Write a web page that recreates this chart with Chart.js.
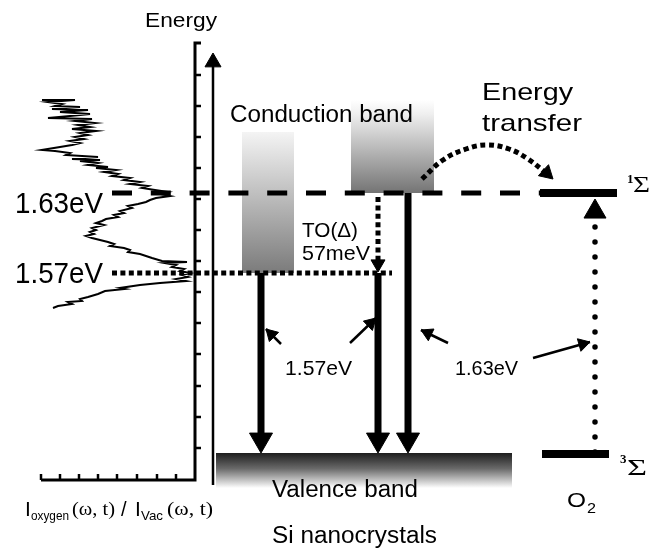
<!DOCTYPE html>
<html>
<head>
<meta charset="utf-8">
<script src="https://cdn.jsdelivr.net/npm/chart.js@4.4.0/dist/chart.umd.min.js"></script>
<style>
  html, body { margin: 0; padding: 0; background: #fff; }
  canvas { display: block; }
</style>
</head>
<body>
<canvas id="diagram" width="662" height="548"></canvas>
<script>
// Diagram units: x runs 0..662 left to right, y runs 0..548 top to bottom.

// PL ratio trace (intensity to the right, energy going up)
const spectrumY = [100,100,102,104,106,107,109,110,112,114,
  116,118,119,121,123,125,127,129,131,133,
  135,137,139,141,143,145,147,150,151,153,
  155,157,159,160,161,163,165,167,168,170,
  172,174,176,178,180,182,184,186,188,190,
  192,194,196,198,200,202,204,206,208,211,
  213,215,217,219,221,223,225,228,230,232,
  234,236,238,240,242,244,246,248,250,252,
  254,256,258,261,262,263,265,267,269,271,
  273,275,277,279,281,283,285,288,289,291,
  294,297,299,301,302,304,306,308];
const spectrumX = [42,75,48,62,55,80,52,88,60,90,
  70,48,92,75,95,78,90,72,96,80,
  88,75,84,70,80,72,60,42,55,70,
  66,98,72,100,80,98,88,108,96,116,
  104,118,112,130,124,140,130,148,142,155,
  168,160,170,156,150,146,138,128,132,120,
  124,114,118,106,102,96,104,92,96,90,
  94,86,92,100,108,114,110,124,130,128,
  140,146,152,162,187,165,176,172,184,180,
  190,182,188,176,186,160,140,120,125,105,
  98,88,80,82,68,72,58,53];

// energy levels
const level163 = 193;
const level157 = 273;
const valenceTop = 453;
const tripletLevel = 454;

// left plot frame ticks
const frameTicksY = [75,106,137,168,199,230,261,292,323,354,386,417,448];
const frameTicksX = [41,60,79,98,117,137,157,176];

// gradient bands: [x0, y0, x1, y1]
const condLeft = [242, 132, 294, level157];
const condRight = [351, 100, 434, level163];
const valence = [216, valenceTop, 512, 488];

// transitions: [xFrom, yFrom, xTo, yTo]
const recombArrows = [
  [261, level157, 261, valenceTop],
  [378, level157, 378, valenceTop],
  [408, level163, 408, valenceTop]
];
const phononArrow = [378, level163 + 4, 378, level157 - 1];
const oxygenArrow = [595, tripletLevel - 2, 595, level163 + 6];
const transferCurveX = [422, 443, 466, 487, 509, 528, 546];
const transferCurveY = [179, 160, 149, 145, 149, 159, 173];
const transferTip = [553, 179];
const pointers = [
  [281, 344, 266, 329],
  [350, 343, 376, 318],
  [448, 343, 421, 330],
  [533, 358, 590, 342]
];

const labels = [
  { text: 'Energy', x: 145, y: 27, size: 20, w: 72 },
  { text: '1.63eV', x: 15, y: 213, size: 29, w: 88 },
  { text: '1.57eV', x: 15, y: 283, size: 29, w: 88 },
  { text: 'Conduction band', x: 230, y: 122, size: 23, w: 183 },
  { text: 'TO(\u0394)', x: 302, y: 237, size: 21, w: 56 },
  { text: '57meV', x: 302, y: 260, size: 21, w: 68 },
  { text: 'Energy', x: 482, y: 100, size: 24, w: 91 },
  { text: 'transfer', x: 482, y: 131, size: 24, w: 100 },
  { text: '1.57eV', x: 285, y: 375, size: 21, w: 67 },
  { text: '1.63eV', x: 455, y: 375, size: 21, w: 63 },
  { text: 'Valence band', x: 272, y: 497, size: 23, w: 146 },
  { text: 'Si nanocrystals', x: 272, y: 543, size: 23, w: 165 },
  { text: 'O', x: 567, y: 507, size: 21, w: 19 },
  { text: '2', x: 587, y: 513, size: 14, w: 9 },
  { text: '1', x: 627, y: 183, size: 13, serif: true, bold: true },
  { text: '\u03A3', x: 633, y: 192, size: 23, serif: true, w: 17 },
  { text: '3', x: 620, y: 463, size: 13, serif: true, bold: true },
  { text: '\u03A3', x: 627, y: 475, size: 23, serif: true, w: 20 },
  { text: 'I', x: 25, y: 516, size: 21 },
  { text: 'oxygen', x: 31, y: 520, size: 13, w: 38 },
  { text: '(\u03C9, t)', x: 72, y: 515, size: 18, serif: true, w: 43 },
  { text: '/', x: 121, y: 516, size: 20 },
  { text: 'I', x: 135, y: 516, size: 21 },
  { text: 'Vac', x: 141, y: 520, size: 13, w: 22 },
  { text: '(\u03C9, t)', x: 167, y: 515, size: 18, serif: true, w: 46 }
];

function pts(xs, ys) {
  return xs.map((x, i) => ({ x: x, y: ys[i] }));
}

function line(data, width, dash, extra) {
  return Object.assign({
    data: data,
    showLine: true,
    borderColor: '#000',
    borderWidth: width,
    borderDash: dash || [],
    pointRadius: 0,
    clip: false
  }, extra || {});
}

// arrow heads are triangle points sitting just behind each tip
const heads = [];
function addHead(x0, y0, x1, y1, side) {
  const len = Math.hypot(x1 - x0, y1 - y0);
  const ux = (x1 - x0) / len, uy = (y1 - y0) / len;
  const r = side / Math.sqrt(3);
  heads.push({
    x: x1 - ux * r, y: y1 - uy * r,
    r: r,
    rot: Math.atan2(ux, -uy) * 180 / Math.PI
  });
}

const datasets = [];

// left spectrum and its frame
datasets.push(line(pts(spectrumX, spectrumY), 2));
datasets.push(line([{ x: 201, y: 43 }, { x: 195, y: 43 }, { x: 195, y: 480 }, { x: 41, y: 480 }], 3));
datasets.push({
  data: frameTicksY.map(y => ({ x: 198, y: y })),
  pointStyle: 'line', pointRadius: 3, pointBorderWidth: 2.5, pointBorderColor: '#000', pointRotation: 0
});
datasets.push({
  data: frameTicksX.map(x => ({ x: x, y: 477 })),
  pointStyle: 'line', pointRadius: 3, pointBorderWidth: 2.5, pointBorderColor: '#000', pointRotation: 90
});

// energy axis arrow
datasets.push(line([{ x: 213, y: 485 }, { x: 213, y: 64 }], 2.5));
addHead(213, 485, 213, 53, 16);

// level lines
datasets.push(line([{ x: 112, y: level163 }, { x: 540, y: level163 }], 5, [20, 18.8]));
datasets.push(line([{ x: 112, y: level157 }, { x: 392, y: level157 }], 5, [5, 3.4]));
datasets.push(line([{ x: 540, y: level163 }, { x: 617, y: level163 }], 8));
datasets.push(line([{ x: 542, y: tripletLevel }, { x: 609, y: tripletLevel }], 8));

// recombination arrows
recombArrows.forEach(a => {
  datasets.push(line([{ x: a[0], y: a[1] }, { x: a[2], y: a[3] - 12 }], 7));
  addHead(a[0], a[1], a[2], a[3], 23);
});

// phonon step (dotted)
datasets.push(line([{ x: phononArrow[0], y: phononArrow[1] }, { x: phononArrow[2], y: phononArrow[3] - 8 }], 5, [5, 3.4]));
addHead(phononArrow[0], phononArrow[1], phononArrow[2], phononArrow[3], 14);

// oxygen excitation (round dots)
datasets.push(line([{ x: oxygenArrow[0], y: oxygenArrow[1] }, { x: oxygenArrow[2], y: oxygenArrow[3] + 14 }], 5.5, [0, 15], { borderCapStyle: 'round' }));
addHead(oxygenArrow[0], oxygenArrow[1], oxygenArrow[2], oxygenArrow[3], 22);

// energy transfer curve
datasets.push(line(pts(transferCurveX, transferCurveY), 5, [5, 3.6], { tension: 0.4 }));
addHead(transferCurveX[transferCurveX.length - 1] - 6, transferCurveY[transferCurveY.length - 1] - 6, transferTip[0], transferTip[1], 15);

// label pointers
pointers.forEach(p => {
  datasets.push(line([{ x: p[0], y: p[1] }, { x: p[2], y: p[3] }], 2.5));
  addHead(p[0], p[1], p[2], p[3], 13);
});

datasets.push({
  data: heads.map(h => ({ x: h.x, y: h.y })),
  pointStyle: 'triangle',
  pointRadius: heads.map(h => h.r),
  pointRotation: heads.map(h => h.rot),
  pointBackgroundColor: '#000',
  pointBorderColor: '#000',
  pointBorderWidth: 1,
  clip: false
});

const bandPlugin = {
  id: 'bands',
  beforeDatasetsDraw(chart) {
    const ctx = chart.ctx;
    const sx = chart.scales.x, sy = chart.scales.y;
    const fillBand = (b, stops) => {
      const x0 = sx.getPixelForValue(b[0]), y0 = sy.getPixelForValue(b[1]);
      const x1 = sx.getPixelForValue(b[2]), y1 = sy.getPixelForValue(b[3]);
      const g = ctx.createLinearGradient(0, y0, 0, y1);
      stops.forEach(s => g.addColorStop(s[0], s[1]));
      ctx.fillStyle = g;
      ctx.fillRect(x0, y0, x1 - x0, y1 - y0);
    };
    ctx.save();
    fillBand(condLeft, [[0, '#f4f4f4'], [1, '#7b7b7b']]);
    fillBand(condRight, [[0, '#ffffff'], [0.15, '#efefef'], [1, '#747474']]);
    fillBand(valence, [[0, '#1e1e1e'], [0.45, '#6a6a6a'], [1, '#ffffff']]);
    ctx.restore();
  }
};

const textPlugin = {
  id: 'texts',
  afterDraw(chart) {
    const ctx = chart.ctx;
    const sx = chart.scales.x, sy = chart.scales.y;
    ctx.save();
    ctx.fillStyle = '#000';
    ctx.textBaseline = 'alphabetic';
    labels.forEach(l => {
      const fam = l.serif ? '"Liberation Serif", "Times New Roman", serif' : '"Liberation Sans", Arial, sans-serif';
      ctx.font = (l.bold ? 'bold ' : '') + l.size + 'px ' + fam;
      const m = ctx.measureText(l.text).width;
      const k = l.w ? l.w / m : 1;
      ctx.save();
      ctx.translate(sx.getPixelForValue(l.x), sy.getPixelForValue(l.y));
      ctx.scale(k, 1);
      ctx.fillText(l.text, 0, 0);
      ctx.restore();
    });
    ctx.restore();
  }
};

new Chart(document.getElementById('diagram'), {
  type: 'scatter',
  data: { datasets: datasets },
  options: {
    responsive: false,
    animation: false,
    devicePixelRatio: 1,
    layout: { padding: 0, autoPadding: false },
    elements: { point: { radius: 0 }, line: { borderCapStyle: 'butt' } },
    plugins: { legend: { display: false }, tooltip: { enabled: false } },
    scales: {
      x: { type: 'linear', min: 0, max: 662, display: false },
      y: { type: 'linear', min: 0, max: 548, reverse: true, display: false }
    }
  },
  plugins: [bandPlugin, textPlugin]
});
</script>
</body>
</html>
